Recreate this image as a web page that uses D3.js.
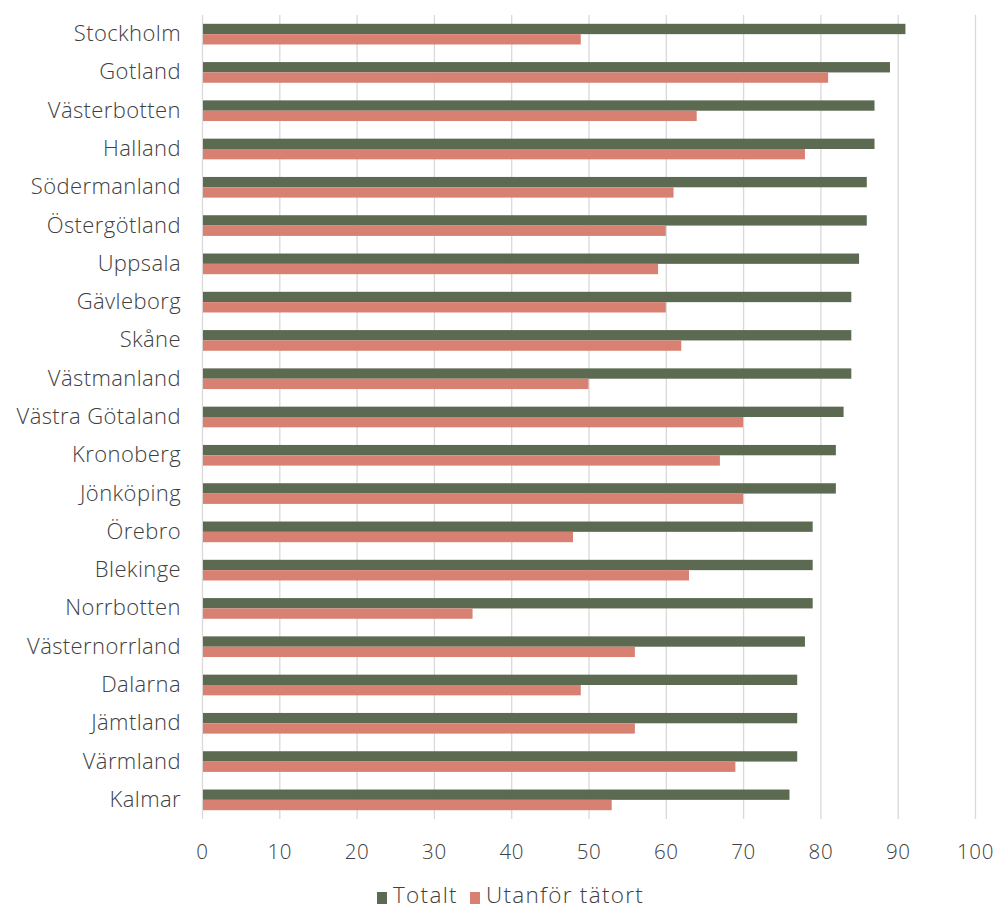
<!DOCTYPE html>
<html>
<head>
<meta charset="utf-8">
<script src="https://cdn.jsdelivr.net/npm/d3@7"></script>
<style>
  body { margin: 0; background: #fff; }
  text { font-family: "Open Sans", "DejaVu Sans", sans-serif; font-weight: 300; fill: #404040; }
</style>
</head>
<body>
<div id="chart"></div>
<script>
// län, sorterade som i originalet
var lan = ["Stockholm", "Gotland", "Västerbotten", "Halland", "Södermanland", "Östergötland",
  "Uppsala", "Gävleborg", "Skåne", "Västmanland", "Västra Götaland", "Kronoberg", "Jönköping",
  "Örebro", "Blekinge", "Norrbotten", "Västernorrland", "Dalarna", "Jämtland", "Värmland", "Kalmar"];
var totalt = [91, 89, 87, 87, 86, 86, 85, 84, 84, 84, 83, 82, 82, 79, 79, 79, 78, 77, 77, 77, 76];
var utanfor = [49, 81, 64, 78, 61, 60, 59, 60, 62, 50, 70, 67, 70, 48, 63, 35, 56, 49, 56, 69, 53];
var serier = ["Totalt", "Utanför tätort"];
var ticks = [0, 10, 20, 30, 40, 50, 60, 70, 80, 90, 100];

var margin = {top: 15, right: 22, bottom: 92, left: 202},
    width = 997 - margin.left - margin.right,
    height = 911 - margin.top - margin.bottom;

var farger = {"Totalt": "#5b6a51", "Utanför tätort": "#d88172"};

var svg = d3.select("#chart")
  .append("svg")
    .attr("width", 997)
    .attr("height", 911)
  .append("g")
    .attr("transform", "translate(" + margin.left + "," + margin.top + ")");

var x = d3.scaleLinear().domain([0, 100]).range([0, width]);

var y = d3.scaleBand()
  .domain(lan)
  .range([0, height])
  .paddingInner(0.46)
  .paddingOuter(0.23);

var y1 = d3.scaleBand().domain(serier).range([0, y.bandwidth()]);

// rutnät
svg.append("g")
  .selectAll("line")
  .data(ticks)
  .enter()
  .append("line")
    .attr("x1", function(d) { return x(d) + 0.5; })
    .attr("x2", function(d) { return x(d) + 0.5; })
    .attr("y1", 0)
    .attr("y2", height)
    .attr("stroke", "#d9d9d9")
    .attr("stroke-width", 1.3);

// x-axel
var xAxis = svg.append("g")
  .attr("transform", "translate(0," + height + ")")
  .call(d3.axisBottom(x).tickValues(ticks).tickSize(0).tickPadding(25));
xAxis.select(".domain").remove();
xAxis.selectAll("text")
  .style("font-size", "20.5px")
  .style("letter-spacing", "0.6px")
  .style("font-family", "'Open Sans', sans-serif")
  .attr("fill", "#404040");

// y-axel
var yAxis = svg.append("g")
  .call(d3.axisLeft(y).tickSize(0).tickPadding(21));
yAxis.select(".domain").remove();
yAxis.selectAll("text")
  .style("font-size", "22px")
  .style("letter-spacing", "0.4px")
  .style("font-family", "'Open Sans', sans-serif")
  .attr("fill", "#404040");

var rader = lan.map(function(d, i) {
  return {lan: d, varden: [{s: "Totalt", v: totalt[i]}, {s: "Utanför tätort", v: utanfor[i]}]};
});

svg.append("g")
  .selectAll("g")
  .data(rader)
  .enter()
  .append("g")
    .attr("transform", function(d) { return "translate(0," + y(d.lan) + ")"; })
  .selectAll("rect")
  .data(function(d) { return d.varden; })
  .enter()
  .append("rect")
    .attr("x", x(0) + 1)
    .attr("y", function(d) { return y1(d.s); })
    .attr("width", function(d) { return x(d.v) - x(0) - 1; })
    .attr("height", y1.bandwidth())
    .attr("fill", function(d) { return farger[d.s]; });

// förklaring
var legend = svg.append("g")
  .attr("transform", "translate(" + (377 - margin.left) + "," + (895 - margin.top) + ")");
var lx = [0, 93];
serier.forEach(function(s, i) {
  legend.append("rect")
    .attr("x", lx[i])
    .attr("y", -3)
    .attr("width", 10)
    .attr("height", 12)
    .attr("fill", farger[s]);
  legend.append("text")
    .attr("x", lx[i] + 16)
    .attr("y", 0)
    .attr("dy", "0.35em")
    .style("font-size", "22.5px")
    .style("letter-spacing", "1.3px")
    .text(s);
});
</script>
</body>
</html>
